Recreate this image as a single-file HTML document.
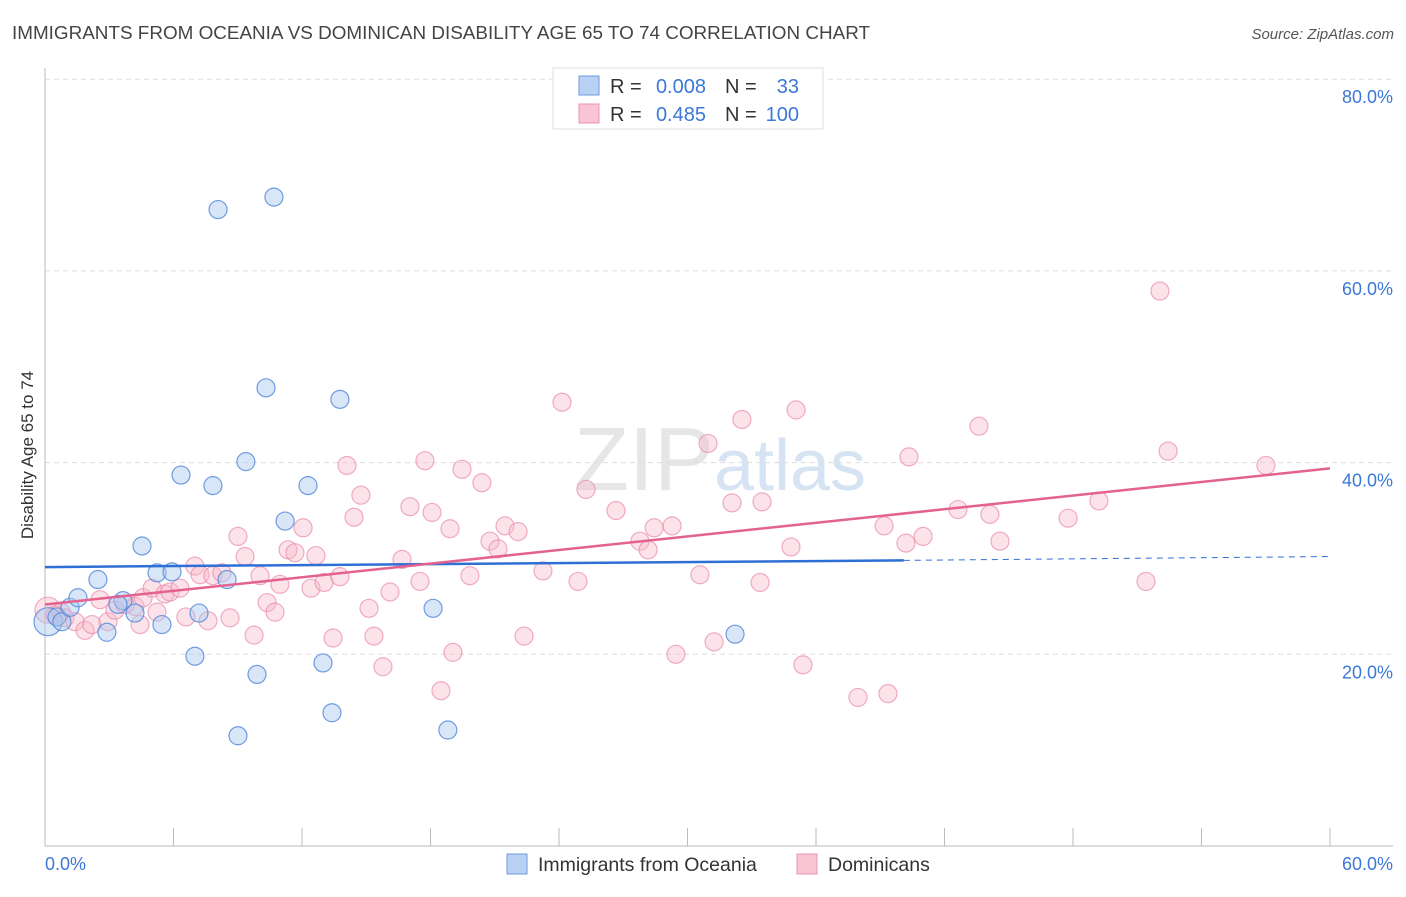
<!DOCTYPE html>
<html><head><meta charset="utf-8"><style>
body{margin:0;background:#fff;font-family:"Liberation Sans",sans-serif;}
svg text{font-family:"Liberation Sans",sans-serif;}
</style></head><body>
<svg id="chart" width="1406" height="892" xmlns="http://www.w3.org/2000/svg">
<text x="12" y="39" font-size="18" fill="#444" textLength="858" lengthAdjust="spacingAndGlyphs">IMMIGRANTS FROM OCEANIA VS DOMINICAN DISABILITY AGE 65 TO 74 CORRELATION CHART</text>
<text x="1394" y="39" font-size="15" fill="#555" text-anchor="end" font-style="italic">Source: ZipAtlas.com</text>
<text x="720" y="490" font-size="90" fill="#e6e6e6" text-anchor="middle" font-family="Liberation Serif">ZIP<tspan fill="#d5e3f3" font-family="Liberation Sans" font-size="72">atlas</tspan></text>
<g id="grid"></g><g id="axes"></g><g id="marks"></g>
<text transform="translate(33,455) rotate(-90)" font-size="17" fill="#333" text-anchor="middle">Disability Age 65 to 74</text>
<g>
<rect x="553" y="68" width="270" height="61" fill="#fff" stroke="#ddd"/>
<rect x="579" y="76" width="20" height="19" fill="#b9d1f3" stroke="#6c9be0"/>
<rect x="579" y="104" width="20" height="19" fill="#f9c4d3" stroke="#ec95b0"/>
<text x="610" y="93" font-size="20" fill="#333">R =</text>
<text x="706" y="93" font-size="20" fill="#3b78d8" text-anchor="end">0.008</text>
<text x="725" y="93" font-size="20" fill="#333">N =</text>
<text x="799" y="93" font-size="20" fill="#3b78d8" text-anchor="end">33</text>
<text x="610" y="121" font-size="20" fill="#333">R =</text>
<text x="706" y="121" font-size="20" fill="#3b78d8" text-anchor="end">0.485</text>
<text x="725" y="121" font-size="20" fill="#333">N =</text>
<text x="799" y="121" font-size="20" fill="#3b78d8" text-anchor="end">100</text>
</g>
<g>
<rect x="507" y="854" width="20" height="20" fill="#b9d1f3" stroke="#6c9be0"/>
<text x="538" y="871" font-size="19.5" fill="#333">Immigrants from Oceania</text>
<rect x="797" y="854" width="20" height="20" fill="#f9c4d3" stroke="#ec95b0"/>
<text x="828" y="871" font-size="19.5" fill="#333">Dominicans</text>
</g>
</svg>
<script>
const yTicks=[20,40,60,80];
const yTickLabels=["20.0%","40.0%","60.0%","80.0%"];
const xTicks=[0,6,12,18,24,30,36,42,48,54,60];
const oceaniaX=[0.14,0.56,0.79,1.17,1.54,2.47,2.89,3.64,3.41,4.20,4.53,5.23,5.46,5.93,6.35,7.00,7.19,7.84,8.08,8.50,9.01,9.38,9.90,10.32,10.69,11.21,12.28,12.98,13.40,13.77,18.12,18.81,32.22];
const oceaniaY=[23.4,23.9,23.4,24.9,25.9,27.8,22.3,25.6,25.2,24.3,31.3,28.5,23.1,28.6,38.7,19.8,24.3,37.6,66.4,27.8,11.5,40.1,17.9,47.8,67.7,33.9,37.6,19.1,13.9,46.6,24.8,12.1,22.1];
const domPx=[48,55,61,65,75,85,92,100,108,115,125,135,140,143,152,157,165,170,180,186,195,200,208,213,222,230,238,245,254,260,267,275,280,288,295,303,311,316,324,333,340,347,354,361,369,374,383,390,402,410,420,425,432,441,450,453,462,470,482,490,498,505,518,524,543,562,578,586,616,640,648,654,672,676,700,708,714,732,742,760,762,791,796,803,858,884,888,906,909,923,958,979,990,1000,1068,1099,1146,1160,1168,1266];
const domPy=[610,615,612,618,622,630,625,600,622,610,604,606,625,598,588,612,594,592,588,617,566,575,621,576,573,618,536,557,635,576,603,612,584,550,553,528,588,556,582,638,577,465,517,495,608,636,667,592,559,507,581,461,512,691,529,652,469,576,483,541,549,526,532,636,571,402,581,489,511,541,550,528,526,654,575,443,642,503,419,582,502,547,410,665,697,526,694,543,457,536,510,426,514,541,518,501,581,291,451,465];
const dominicanX=domPx.map(p=>+((p-45)*60/1285).toFixed(2));
const dominicanY=domPy.map(p=>+((846-p)*20/191.7).toFixed(1));
const oceaniaTrend=[29.1,29.8,30.2];
const dominicanTrend=[25.2,39.4];
const NS="http://www.w3.org/2000/svg";
const X=v=>45+v*1285/60, Y=v=>846-v*191.7/20;
function mk(tag,attrs,parent){const e=document.createElementNS(NS,tag);for(const k in attrs)e.setAttribute(k,attrs[k]);parent.appendChild(e);return e;}
const grid=document.getElementById('grid'),axes=document.getElementById('axes'),marks=document.getElementById('marks');
yTicks.forEach((t,i)=>{
 const l=mk('line',{x1:45,x2:1393,y1:Y(t),y2:Y(t),stroke:'#ddd','stroke-dasharray':'5,4'},grid);
 
 
 const tx=mk('text',{x:1393,y:Y(t)+24,'font-size':18,fill:'#3b78d8','text-anchor':'end'},axes);
 tx.textContent=yTickLabels[i];
 
 
});
const ax=mk('line',{x1:45,x2:1393,y1:846,y2:846,stroke:'#bbb'},axes);


const ay=mk('line',{x1:45,x2:45,y1:68,y2:846,stroke:'#bbb'},axes);


xTicks.forEach(t=>{
 const l=mk('line',{x1:X(t),x2:X(t),y1:828,y2:846,stroke:'#bbb'},axes);
 
 
});
const xl0=mk('text',{x:45,y:870,'font-size':18,fill:'#3b78d8'},axes);xl0.textContent='0.0%';


const xl1=mk('text',{x:1393,y:870,'font-size':18,fill:'#3b78d8','text-anchor':'end'},axes);xl1.textContent='60.0%';


dominicanX.forEach((x,i)=>{
 const c=mk('circle',{cx:X(x),cy:Y(dominicanY[i]),r:i==0?13:9,fill:'#f7b8cb','fill-opacity':0.4,stroke:'#e98aa9','stroke-opacity':0.7,'stroke-width':1.2},marks);
 
 
});
oceaniaX.forEach((x,i)=>{
 const c=mk('circle',{cx:X(x),cy:Y(oceaniaY[i]),r:i==0?14:9,fill:'#a9c7ef','fill-opacity':0.45,stroke:'#4f86d8','stroke-opacity':0.8,'stroke-width':1.2},marks);
 
 
});
const t1=mk('line',{x1:X(0),x2:X(40.1),y1:Y(oceaniaTrend[0]),y2:Y(oceaniaTrend[1]),stroke:'#2e6fd6','stroke-width':2.5},marks);


const t2=mk('line',{x1:X(40.1),x2:X(60),y1:Y(oceaniaTrend[1]),y2:Y(oceaniaTrend[2]),stroke:'#2e6fd6','stroke-width':1,'stroke-dasharray':'6,5'},marks);


const t3=mk('line',{x1:X(0),x2:X(60),y1:Y(dominicanTrend[0]),y2:Y(dominicanTrend[1]),stroke:'#e4628e','stroke-width':2.5},marks);


</script>
</body></html>
